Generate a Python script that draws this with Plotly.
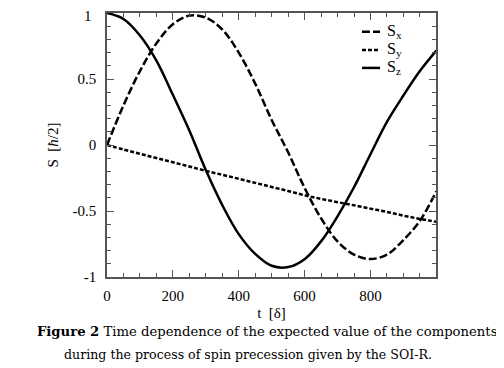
import plotly.graph_objects as go

# time axis (units of delta)
t = [0, 50, 100, 150, 200, 250, 300, 350, 400, 450, 500,
     550, 600, 650, 700, 750, 800, 850, 900, 950, 1000]

s_x = [0.0, 0.30, 0.56, 0.77, 0.915, 0.98, 0.965, 0.875, 0.70, 0.465, 0.19,
       -0.055, -0.325, -0.555, -0.73, -0.83, -0.864, -0.83, -0.72, -0.575, -0.35]

s_y = [0.0, -0.034, -0.067, -0.099, -0.131, -0.163, -0.196, -0.226, -0.256, -0.287, -0.318,
       -0.348, -0.381, -0.408, -0.433, -0.457, -0.482, -0.507, -0.535, -0.560, -0.582]

s_z = [1.0, 0.955, 0.83, 0.64, 0.38, 0.11, -0.19, -0.455, -0.675, -0.825, -0.915,
       -0.925, -0.865, -0.73, -0.54, -0.32, -0.07, 0.175, 0.375, 0.56, 0.715]

series_names = ["S<sub>x</sub>", "S<sub>y</sub>", "S<sub>z</sub>"]
series_dash = ["8px,3px", "4px,2px", "solid"]

x_tickvals = [0, 200, 400, 600, 800]
x_ticktext = ["0", "200", "400", "600", "800"]
y_tickvals = [1, 0.5, 0, -0.5, -1]
y_ticktext = ["1", "0.5", "0", "-0.5", "-1"]

FONT = "Liberation Serif"
CAP_FONT = "DejaVu Serif"

fig = go.Figure()
for name, ys, dash in zip(series_names, [s_x, s_y, s_z], series_dash):
    fig.add_trace(go.Scatter(x=t, y=ys, mode="lines", name=name, showlegend=False,
                             line=dict(color="black", width=2.5, dash=dash, shape="spline")))

axis_common = dict(showline=True, linecolor="#555", linewidth=1.5, mirror="ticks",
                   ticks="inside", tickcolor="#555", tickwidth=1, showgrid=False,
                   zeroline=False, automargin=False,
                   tickfont=dict(family=FONT, size=15, color="black"))

fig.update_xaxes(range=[0, 999], tickvals=x_tickvals, ticktext=x_ticktext, ticklen=7,
                 ticklabelstandoff=4,
                 minor=dict(dtick=50, tick0=0, ticks="inside", ticklen=4, tickcolor="#555"),
                 title=dict(text="t  [δ]", font=dict(family=FONT, size=15, color="black"), standoff=5),
                 **axis_common)
# top label ("1") is drawn as an annotation a little lower so it is not clipped
fig.update_yaxes(range=[-1, 1], tickvals=y_tickvals, ticktext=[""] + y_ticktext[1:], ticklen=7,
                 ticklabelstandoff=6,
                 minor=dict(dtick=0.1, tick0=0, ticks="inside", ticklen=4, tickcolor="#555"),
                 title=dict(text="S  [<i>ħ</i>/2]", font=dict(family=FONT, size=15, color="black"),
                            standoff=10),
                 **axis_common)
fig.add_annotation(xref="paper", yref="y", x=-0.04, y=y_tickvals[0], xanchor="right", yanchor="middle",
                   yshift=-3, showarrow=False, text=y_ticktext[0],
                   font=dict(family=FONT, size=15, color="black"))

# hand-made legend (short samples like the original)
legend_y = [0.929, 0.860, 0.792]
for name, dash, yy in zip(series_names, series_dash, legend_y):
    fig.add_shape(type="line", xref="paper", yref="paper", x0=0.775, x1=0.83, y0=yy, y1=yy,
                  line=dict(color="black", width=2.5, dash=dash))
    fig.add_annotation(xref="paper", yref="paper", x=0.845, y=yy, xanchor="left", yanchor="middle",
                       showarrow=False, text=name, font=dict(family=FONT, size=16, color="black"))

fig.update_layout(
    width=496, height=360,
    margin=dict(l=99, r=68, t=5, b=91),
    paper_bgcolor="white", plot_bgcolor="white",
    showlegend=False,
    font=dict(family=FONT, color="black"),
)

fig.add_annotation(xref="paper", yref="paper", x=0.487, y=-0.208, xanchor="center", yanchor="middle",
                   showarrow=False,
                   text="<b>Figure 2</b> Time dependence of the expected value of the components",
                   font=dict(family=CAP_FONT, size=13.2, color="black"))
fig.add_annotation(xref="paper", yref="paper", x=0.429, y=-0.292, xanchor="center", yanchor="middle",
                   showarrow=False,
                   text="during the process of spin precession given by the SOI-R.",
                   font=dict(family=CAP_FONT, size=12.6, color="black"))

fig.write_html("out.html")
